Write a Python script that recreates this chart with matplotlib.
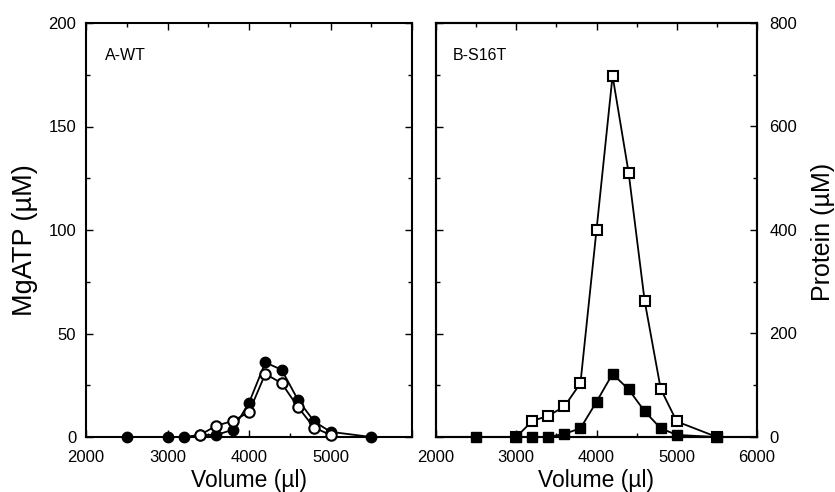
import matplotlib
matplotlib.use("Agg")
import matplotlib.pyplot as plt
from matplotlib.ticker import MultipleLocator, FixedLocator

plt.rcParams['font.family'] = ['Liberation Sans', 'DejaVu Sans']

# Panel A (WT): MgATP (µM)
vol_a_filled = [2500, 3000, 3200, 3400, 3600, 3800, 4000, 4200, 4400, 4600, 4800, 5000, 5500]
wt_filled = [0, 0, 0, 1, 1, 3.5, 16.5, 36, 32.5, 18, 7.5, 2.5, 0]
vol_a_open = [3400, 3600, 3800, 4000, 4200, 4400, 4600, 4800, 5000]
wt_open = [1, 5.5, 7.7, 12, 30.5, 26, 14.5, 4.5, 1]

# Panel B (S16T)
vol_b = [2500, 3000, 3200, 3400, 3600, 3800, 4000, 4200, 4400, 4600, 4800, 5000, 5500]
s16t_mgatp = [0, 0, 0, 0, 1.5, 4.2, 17, 30.5, 23, 12.4, 4.2, 1, 0]
vol_b_prot = [3000, 3200, 3400, 3600, 3800, 4000, 4200, 4400, 4600, 4800, 5000, 5500]
s16t_protein = [0, 31, 41, 59, 104, 400, 698, 511, 263, 93, 30, 0]

x_ticks = [2000, 3000, 4000, 5000, 6000]
x_labels_a = ['2000', '3000', '4000', '5000', '']
x_labels_b = ['2000', '3000', '4000', '5000', '6000']
y_ticks = [0, 50, 100, 150, 200]
prot_ticks = [0, 200, 400, 600, 800]

W, H = 835, 492
fig = plt.figure(figsize=(W / 100, H / 100), dpi=100)

def px_axes(x0, x1, y0, y1):
    return fig.add_axes([x0 / W, 1 - y1 / H, (x1 - x0) / W, (y1 - y0) / H])

axA = px_axes(86, 412, 23, 437)
axB = px_axes(436, 757, 23, 437)

tick_fs = 12
lw = 1.3
ms = 7.5
label_fs = 16.5

def style(ax, labels):
    ax.set_xlim(2000, 6000)
    ax.set_ylim(0, 200)
    ax.xaxis.set_major_locator(FixedLocator(x_ticks))
    ax.set_xticklabels(labels)
    ax.xaxis.set_minor_locator(MultipleLocator(500))
    ax.yaxis.set_major_locator(FixedLocator(y_ticks))
    ax.yaxis.set_minor_locator(MultipleLocator(25))
    ax.tick_params(which='both', direction='in', top=True, right=True,
                   labelsize=tick_fs, width=1.0)
    ax.tick_params(which='major', length=5)
    ax.tick_params(axis='x', which='major', pad=9)
    ax.tick_params(axis='y', which='major', pad=7)
    ax.tick_params(which='minor', length=3)
    for s in ax.spines.values():
        s.set_linewidth(1.5)
    ax.set_xlabel('Volume (µl)', fontsize=label_fs, labelpad=3)

style(axA, x_labels_a)
style(axB, x_labels_b)
axB.set_yticklabels([])

axA.set_ylabel('MgATP (µM)', fontsize=19.5, va='center', ha='center')
axA.yaxis.set_label_coords((25 - 86) / 326, 0.475)

axA.plot(vol_a_filled, wt_filled, '-o', color='black', lw=lw, ms=ms,
         mfc='black', mec='black', zorder=3, clip_on=False)
axA.plot(vol_a_open, wt_open, '-o', color='black', lw=lw, ms=ms,
         mfc='white', mec='black', mew=1.5, zorder=4, clip_on=False)
axA.text(0.058, 0.94, 'A-WT', transform=axA.transAxes, fontsize=11.5, va='top')

axB.plot(vol_b, s16t_mgatp, '-s', color='black', lw=lw, ms=ms,
         mfc='black', mec='black', zorder=4, clip_on=False)

axB2 = axB.twinx()
axB2.set_ylim(0, 800)
axB2.yaxis.set_major_locator(FixedLocator(prot_ticks))
axB2.yaxis.set_minor_locator(MultipleLocator(100))
axB2.tick_params(which='both', direction='in', labelsize=tick_fs, width=1.0)
axB2.tick_params(which='major', length=5, pad=9)
axB2.tick_params(which='minor', length=3)
for s in axB2.spines.values():
    s.set_linewidth(1.5)
axB2.plot(vol_b_prot, s16t_protein, '-s', color='black', lw=lw, ms=ms,
          mfc='white', mec='black', mew=1.5, zorder=3, clip_on=False)
axB2.set_ylabel('Protein (µM)', fontsize=18, va='center', ha='center')
axB2.yaxis.set_label_coords((823 - 436) / 321, 0.495)
axB.set_zorder(axB2.get_zorder() + 1)
axB.patch.set_visible(False)
axB.text(0.053, 0.94, 'B-S16T', transform=axB.transAxes, fontsize=11.5, va='top')

fig.savefig('out.png', dpi=100)
